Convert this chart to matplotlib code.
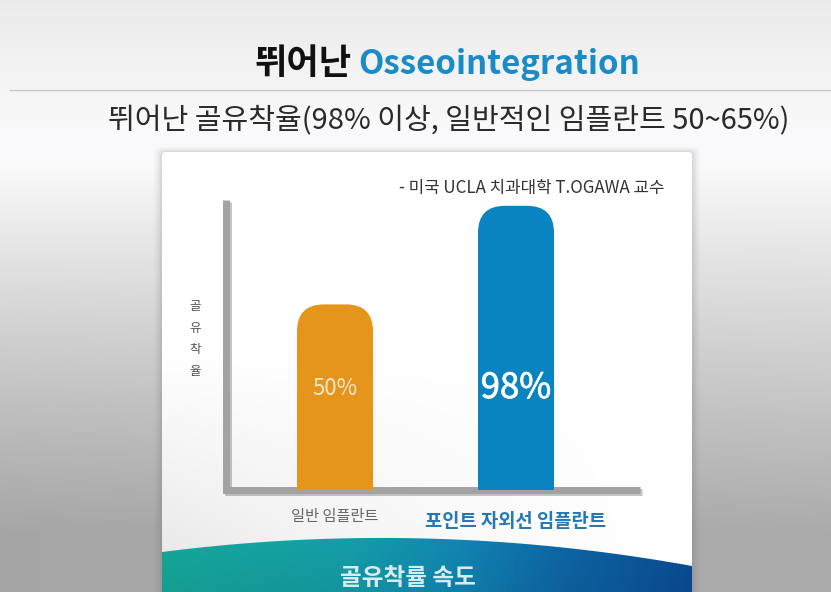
import numpy as np
import matplotlib
matplotlib.use("Agg")
import matplotlib.pyplot as plt
from matplotlib.patches import FancyBboxPatch, Polygon
import matplotlib.patheffects as pe
from matplotlib.colors import to_rgb

plt.rcParams['font.family'] = ['Noto Sans CJK KR', 'DejaVu Sans']

# ---------------- data ----------------
categories = ['일반 임플란트', '포인트 자외선 임플란트']
bar_heights = [64, 98]          # drawn bar heights on a 0-100 axis (as seen in the picture)
value_labels = ['50%', '98%']
bar_colors = ['#E5951C', '#0A83C1']
cat_colors = ['#666666', '#2379B5']
title_left = '뛰어난'
title_right = 'Osseointegration'
subtitle = '뛰어난 골유착율(98% 이상, 일반적인 임플란트 50~65%)'
source = '- 미국 UCLA 치과대학 T.OGAWA 교수'
ylabel = '골유착율'
banner = '골유착률 속도'

W, H = 831, 592
fig = plt.figure(figsize=(W / 100, H / 100), dpi=100)

# ---------------- background ----------------
bg = fig.add_axes([0, 0, 1, 1], zorder=0)
yy = np.linspace(0, 1, H)[:, None]
xx = np.linspace(0, 1, W)[None, :]
top = 0.92 + 0.06 * np.clip(yy / 0.22, 0, 1)
fall = np.clip((yy - 0.28) / 0.62, 0, 1) ** 0.95
v = top - 0.31 * fall - 0.02 * (1 - xx) * np.clip((yy - 0.3) / 0.4, 0, 1)
v = np.clip(v, 0, 1) * np.ones_like(xx)
img = np.dstack([v, v, v * 1.005])
img = np.clip(img, 0, 1)
bg.imshow(img, extent=[0, W, H, 0], aspect='auto', interpolation='bilinear')
bg.set_xlim(0, W)
bg.set_ylim(H, 0)
bg.axis('off')

# title separator line
bg.plot([10, W], [90, 90], color='#c9c9c9', lw=1.0)

# panel with soft shadow
px0, px1, py0, py1 = 162, 692, 152, H + 5
for k, a in [(8, 0.03), (6, 0.04), (4, 0.06), (2, 0.08)]:
    bg.add_patch(FancyBboxPatch((px0 - k, py0 - k * 0.6), px1 - px0 + 2 * k, py1 - py0 + k,
                                boxstyle='round,pad=0,rounding_size=6',
                                fc='#606060', ec='none', alpha=a, zorder=1))
panel = FancyBboxPatch((px0, py0), px1 - px0, py1 - py0,
                       boxstyle='round,pad=0,rounding_size=4', fc='white', ec='none', zorder=2)
bg.add_patch(panel)
ph, pw = 200, 300
gy = np.linspace(0, 1, ph)[:, None]
gx = np.linspace(0, 1, pw)[None, :]
pv = 1 - 0.10 * np.clip((gy - 0.45) / 0.55, 0, 1) * (1 - gx) ** 1.5
pimg = np.dstack([pv, pv, pv])
im = bg.imshow(pimg, extent=[px0, px1, py1, py0], aspect='auto', zorder=2.1,
               interpolation='bilinear')
im.set_clip_path(panel)

# bottom banner with curved top
bxs = np.linspace(px0, px1, 80)
coef = np.polyfit([162, 395, 692], [552, 538, 566], 2)
bys = np.polyval(coef, bxs)
verts = list(zip(bxs, bys)) + [(px1, H + 2), (px0, H + 2)]
bpoly = Polygon(verts, closed=True, fc='none', ec='none', zorder=3)
bg.add_patch(bpoly)
stops_x = [0.0, 0.35, 0.55, 0.75, 1.0]
stops_c = [to_rgb(c) for c in ['#16A99B', '#159FAA', '#1288B4', '#0E68A8', '#0A4C97']]
bx = np.linspace(0, 1, 400)
brow = np.stack([np.interp(bx, stops_x, [c[i] for c in stops_c]) for i in range(3)], axis=-1)
bimg = np.repeat(brow[None, :, :], 60, axis=0)
shade = np.linspace(1.0, 0.93, 60)[:, None, None]
bimg = np.clip(bimg * shade, 0, 1)
bim = bg.imshow(bimg, extent=[px0, px1, H + 2, 530], aspect='auto', zorder=3,
                interpolation='bilinear')
bim.set_clip_path(bpoly)
bg.text(408, 578, banner, ha='center', va='center', fontsize=17, fontweight='bold',
        color='#D6ECEF', zorder=5)

# titles
renderer = fig.canvas.get_renderer()


def fit(t, width_px):
    bb = t.get_window_extent(renderer=renderer)
    t.set_fontsize(t.get_fontsize() * width_px / bb.width)


t1 = bg.text(352, 74, title_left, ha='right', va='baseline', fontsize=24,
             fontweight='bold', color='#111111', zorder=5)
fit(t1, 97)
t2 = bg.text(358, 74, title_right, ha='left', va='baseline', fontsize=24,
             fontweight='bold', color='#1B8BC7', zorder=5)
fit(t2, 282)
t3 = bg.text(449, 129, subtitle, ha='center', va='baseline', fontsize=19,
             color='#2a2a2a', zorder=5)
fit(t3, 682)
t4 = bg.text(532, 193, source, ha='center', va='baseline', fontsize=11,
             color='#333333', zorder=5)
fit(t4, 265)

# ---------------- chart axes ----------------
axL, axR, axB, axT = 226, 640, 490, 200
ax = fig.add_axes([axL / W, 1 - axB / H, (axR - axL) / W, (axB - axT) / H], zorder=2)
ax.patch.set_alpha(0)
x = np.arange(len(categories))
ux = 181.0
ax.set_xlim(-(335 - axL) / ux, 1 + (axR - 516) / ux)
ax.set_ylim(0, 100)
for s in ax.spines.values():
    s.set_visible(False)
ax.set_xticks([])
ax.set_yticks([])

# axis L-shape with shadow
ax.plot([0, 0, 1], [1, 0, 0], transform=ax.transAxes, clip_on=False, color='#A2A2A2',
        lw=5, solid_joinstyle='miter', solid_capstyle='butt', zorder=1,
        path_effects=[pe.SimpleLineShadow(offset=(1.5, -1.5), shadow_color='#555555', alpha=0.35),
                      pe.Normal()])

# bars with rounded tops
bar_w = 76 / ux
p0 = ax.transData.transform((0, 0))
p1 = ax.transData.transform((1, 1))
px_x = p1[0] - p0[0]
px_y = p1[1] - p0[1]
r_px = 27
r_x = r_px / px_x
r_y = r_px / px_y
bars = ax.bar(x, [h - r_y for h in bar_heights], width=bar_w, color=bar_colors,
              edgecolor='none', zorder=3)
for b, h, c in zip(bars, bar_heights, bar_colors):
    cap = FancyBboxPatch((b.get_x(), h - 2 * r_y), b.get_width(), 2 * r_y,
                         boxstyle=f'round,pad=0,rounding_size={r_x}',
                         mutation_aspect=r_y / r_x, fc=c, ec='none', zorder=3)
    ax.add_patch(cap)

# value labels
ax.text(x[0], 35, value_labels[0], ha='center', va='center', fontsize=16,
        color='#F7E7C6', zorder=4)
ax.text(x[1], 35, value_labels[1], ha='center', va='center', fontsize=25,
        color='white', zorder=4,
        path_effects=[pe.withStroke(linewidth=0.6, foreground='#E6F4FB')])

# category labels
ax.text(x[0], -9.3, categories[0], ha='center', va='center', fontsize=11,
        color=cat_colors[0], clip_on=False)
ax.text(x[1], -10.7, categories[1], ha='center', va='center', fontsize=13.5,
        fontweight='bold', color=cat_colors[1], clip_on=False)

# y label (stacked vertically)
ax.text(-0.075, 0.52, '\n'.join(ylabel), transform=ax.transAxes, ha='center', va='center',
        fontsize=9, color='#555555', linespacing=1.85, clip_on=False)

fig.savefig('out.png', dpi=100)
